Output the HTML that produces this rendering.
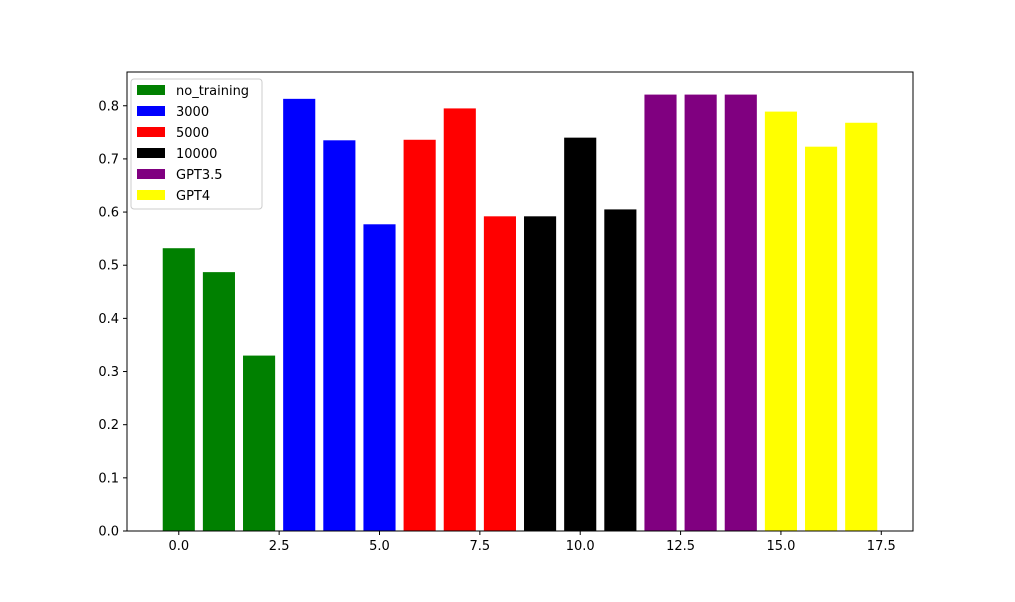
<!DOCTYPE html>
<html><head><meta charset="utf-8"><style>
body{margin:0;background:#fff}
svg text{font-family:"DejaVu Sans","Liberation Sans",sans-serif;font-size:13px;fill:#000}
</style></head><body>
<svg id="c" width="1015" height="597" xmlns="http://www.w3.org/2000/svg"></svg>
<script>
const values=[0.532,0.487,0.330,0.813,0.735,0.577,0.736,0.795,0.592,0.592,0.740,0.605,0.821,0.821,0.821,0.789,0.723,0.768];
const groups=["no_training","3000","5000","10000","GPT3.5","GPT4"];
const colors=["green","blue","red","black","purple","yellow"];
const xTicks=[0,2.5,5,7.5,10,12.5,15,17.5];
const xTickLabels=["0.0","2.5","5.0","7.5","10.0","12.5","15.0","17.5"];
const yTicks=[0,0.1,0.2,0.3,0.4,0.5,0.6,0.7,0.8];
const L=127,R=913,T=72,B=531;
const xmin=-1.29,xmax=18.29,ymax=0.8635;
const X=v=>L+(v-xmin)/(xmax-xmin)*(R-L);
const Y=v=>B-v/ymax*(B-T);
const svg=document.getElementById('c');const NS="http://www.w3.org/2000/svg";
function mk(t,a,p){const e=document.createElementNS(NS,t);for(const k in a)e.setAttribute(k,a[k]);(p||svg).appendChild(e);return e;}
values.forEach((v,i)=>{
 const r=mk('rect',{x:X(i-0.4),y:Y(v),width:X(0.8)-X(0),height:Y(0)-Y(v),fill:colors[Math.floor(i/3)]});
 
 
});
const ax=mk('rect',{x:L,y:T,width:R-L,height:B-T,fill:'none',stroke:'#000','stroke-width':1});


xTicks.forEach((t,i)=>{
 mk('line',{x1:X(t),x2:X(t),y1:B,y2:B+4,stroke:'#000'});
 const tx=mk('text',{x:X(t),y:B+19,'text-anchor':'middle'});tx.textContent=xTickLabels[i];
 
 
});
yTicks.forEach(t=>{
 mk('line',{x1:L-4,x2:L,y1:Y(t),y2:Y(t),stroke:'#000'});
 const tx=mk('text',{x:L-8,y:Y(t)+4.5,'text-anchor':'end'});tx.textContent=t.toFixed(1);
 
 
});
const lg=mk('g',{});


mk('rect',{x:131,y:79,width:131,height:130,fill:'#fff',stroke:'#ccc',rx:3},lg);
groups.forEach((g,i)=>{
 const y=90+i*21;
 mk('rect',{x:137,y:y-5,width:28,height:10,fill:colors[i]},lg);
 const tx=mk('text',{x:176,y:y+5},lg);tx.textContent=g;
 
 
});
</script>
</body></html>
